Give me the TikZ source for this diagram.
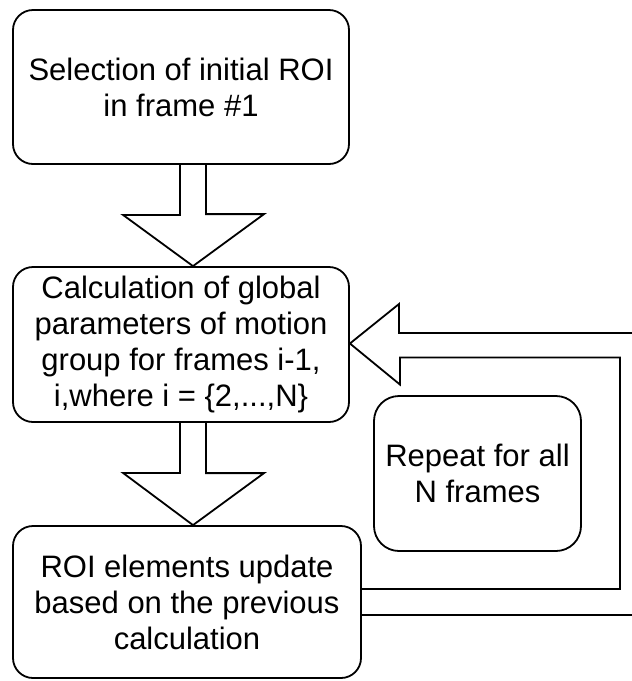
\documentclass[tikz,border=0pt]{standalone}
\usepackage{fontspec}
\setmainfont{Liberation Sans}
\usetikzlibrary{positioning}

\begin{document}
\begin{tikzpicture}[x=1pt,y=1pt]
        \tikzset{stage/.style={draw,line width=1.8pt,rounded corners=20pt,align=center,
            font=\fontsize{31}{36}\selectfont}}
        \tikzset{blk/.style={draw,line width=1.8pt,line join=miter}}
        \useasboundingbox (0,0) rectangle (632,-681);

        \node[stage,minimum width=336pt,minimum height=154pt] (sel) at (181,-87)
            {Selection of initial ROI\\in frame \#1};
        \node[stage,minimum width=336pt,minimum height=155pt] (calc) at (181,-344.5)
            {Calculation of global\\parameters of motion\\group for frames i-1,\\i,where i = \{2,...,N\}};
        \node[stage,minimum width=348pt,minimum height=152pt] (upd) at (187,-602)
            {ROI elements update\\based on the previous\\calculation};
        \node[stage,rounded corners=25pt,minimum width=207pt,minimum height=155pt] (rep) at (477.5,-473.5)
            {Repeat for all\\N frames};

        \coordinate (loopin) at (632,-333);
        \coordinate (loopout) at (632,-615);

        % block arrows down
        \foreach \a/\b/\s in {sel/calc/12,calc/upd/6} {
            \draw[blk] ([xshift=-1pt]\a.south) -- ++(0,-50) -- ++(-57,0)
                -- ([xshift=\s pt]\b.north) -- ++(71,52) -- ++(-58,0) -- ([xshift=25pt]\a.south);
        }

        % loop back
        \draw[blk] (loopin) -- ++(-233,0) -- ++(0,29) -- ([yshift=1pt]calc.east)
            -- ++(50,-41) -- ++(0,27) -- ++(220,0) |- ([yshift=13pt]upd.east);
        \draw[blk] ([yshift=-13pt]upd.east) -- (loopout);
    \end{tikzpicture}
\end{document}
